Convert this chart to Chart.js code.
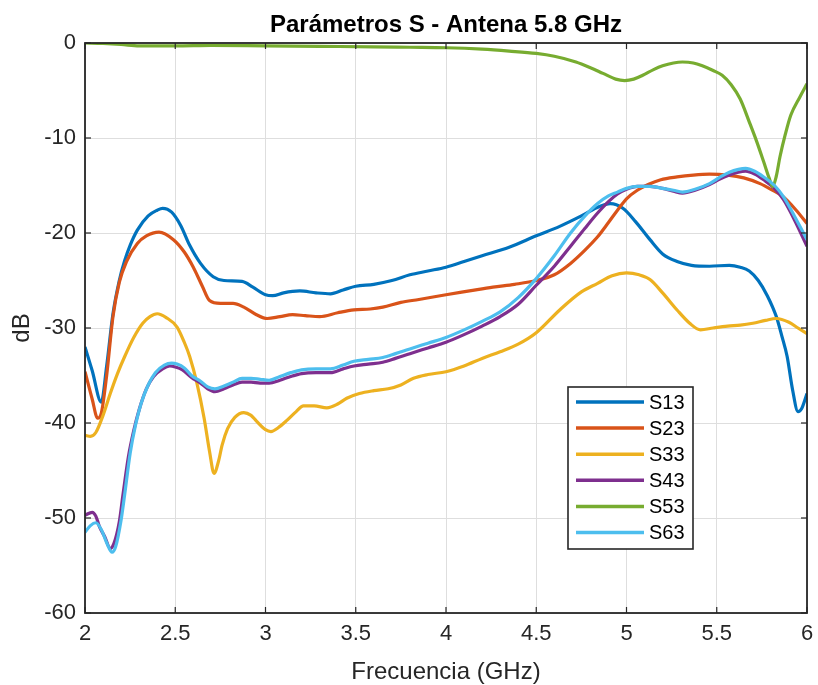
<!DOCTYPE html>
<html>
<head>
<meta charset="utf-8">
<script src="https://cdn.jsdelivr.net/npm/chart.js@4"></script>
<style>
  html, body { margin: 0; padding: 0; background: #fff; }
  #wrap { width: 818px; height: 685px; }
</style>
</head>
<body>
<div id="wrap"><canvas id="c" width="818" height="685"></canvas></div>
<script>
// S-parameter sweep of the 5.8 GHz antenna (port 3 excitation), values in dB
const seriesNames  = ['S13', 'S23', 'S33', 'S43', 'S53', 'S63'];
const seriesColors = ['#0072BD', '#D95319', '#EDB120', '#7E2F8E', '#77AC30', '#4DBEEE'];

const xTicks = [2, 2.5, 3, 3.5, 4, 4.5, 5, 5.5, 6];
const yTicks = [0, -10, -20, -30, -40, -50, -60];

const freqS13 = [2.00, 2.04, 2.09, 2.12, 2.155, 2.19, 2.22, 2.25, 2.29, 2.35, 2.40, 2.43, 2.48, 2.53, 2.58, 2.64, 2.71, 2.77, 2.87, 2.93, 3.00, 3.04, 3.10, 3.19, 3.28, 3.36, 3.43, 3.50, 3.60, 3.70, 3.80, 3.90, 4.00, 4.10, 4.20, 4.35, 4.50, 4.63, 4.75, 4.85, 4.91, 4.98, 5.05, 5.13, 5.20, 5.28, 5.36, 5.46, 5.57, 5.63, 5.68, 5.73, 5.78, 5.83, 5.86, 5.89, 5.92, 5.95, 5.97, 6.00];
const dbS13   = [-32.0, -34.5, -37.8, -34.0, -28.5, -25.0, -22.9, -21.3, -19.7, -18.2, -17.6, -17.4, -17.8, -19.2, -21.3, -23.2, -24.6, -25.0, -25.1, -25.7, -26.5, -26.6, -26.3, -26.1, -26.3, -26.4, -26.0, -25.6, -25.4, -25.0, -24.4, -24.0, -23.6, -23.0, -22.4, -21.5, -20.3, -19.3, -18.2, -17.2, -16.9, -17.4, -18.8, -20.7, -22.2, -23.0, -23.4, -23.5, -23.4, -23.6, -24.0, -25.0, -26.6, -28.8, -30.8, -33.0, -36.5, -38.8, -38.5, -36.9];

const freqS23 = [2.00, 2.04, 2.07, 2.09, 2.12, 2.155, 2.19, 2.23, 2.29, 2.34, 2.41, 2.49, 2.55, 2.60, 2.65, 2.69, 2.75, 2.82, 2.88, 2.95, 3.01, 3.08, 3.15, 3.22, 3.30, 3.40, 3.49, 3.58, 3.65, 3.75, 3.85, 4.00, 4.13, 4.26, 4.38, 4.50, 4.60, 4.69, 4.77, 4.84, 4.90, 4.95, 5.00, 5.06, 5.12, 5.19, 5.28, 5.37, 5.46, 5.56, 5.65, 5.74, 5.80, 5.87, 5.94, 6.00];
const dbS23   = [-34.6, -37.5, -39.5, -39.0, -35.0, -28.8, -25.2, -23.0, -21.1, -20.3, -19.9, -20.7, -22.0, -23.6, -25.6, -27.1, -27.4, -27.4, -27.8, -28.6, -29.0, -28.8, -28.6, -28.7, -28.8, -28.4, -28.1, -28.0, -27.8, -27.3, -27.0, -26.5, -26.1, -25.7, -25.4, -25.0, -24.4, -23.2, -21.8, -20.4, -18.9, -17.6, -16.4, -15.5, -14.9, -14.4, -14.1, -13.9, -13.8, -13.9, -14.2, -14.8, -15.4, -16.2, -17.6, -19.0];

const freqS33 = [2.00, 2.03, 2.06, 2.10, 2.14, 2.18, 2.22, 2.27, 2.32, 2.36, 2.40, 2.45, 2.51, 2.55, 2.58, 2.62, 2.66, 2.69, 2.715, 2.74, 2.76, 2.79, 2.83, 2.88, 2.92, 2.95, 3.00, 3.03, 3.07, 3.12, 3.17, 3.21, 3.27, 3.34, 3.40, 3.45, 3.52, 3.60, 3.68, 3.75, 3.82, 3.90, 4.00, 4.10, 4.20, 4.30, 4.40, 4.50, 4.63, 4.75, 4.84, 4.92, 5.00, 5.07, 5.13, 5.20, 5.28, 5.35, 5.41, 5.48, 5.56, 5.63, 5.70, 5.77, 5.83, 5.90, 5.95, 6.00];
const dbS33   = [-41.3, -41.4, -41.0, -39.2, -36.9, -34.8, -33.0, -31.0, -29.5, -28.8, -28.5, -28.9, -29.9, -31.5, -33.0, -35.8, -39.5, -43.0, -45.3, -44.0, -42.3, -40.6, -39.4, -38.9, -39.2, -39.8, -40.7, -40.9, -40.5, -39.7, -38.8, -38.2, -38.2, -38.4, -38.0, -37.4, -36.9, -36.6, -36.4, -36.0, -35.3, -34.9, -34.6, -34.0, -33.2, -32.5, -31.7, -30.5, -28.1, -26.2, -25.3, -24.5, -24.2, -24.4, -24.9, -26.3, -28.1, -29.5, -30.2, -30.0, -29.8, -29.7, -29.5, -29.2, -29.0, -29.4, -30.0, -30.6];

const freqS43 = [2.00, 2.04, 2.06, 2.08, 2.11, 2.14, 2.16, 2.19, 2.21, 2.24, 2.27, 2.30, 2.34, 2.38, 2.43, 2.47, 2.50, 2.54, 2.59, 2.64, 2.68, 2.72, 2.77, 2.82, 2.87, 2.92, 2.97, 3.02, 3.08, 3.14, 3.20, 3.28, 3.36, 3.43, 3.49, 3.57, 3.65, 3.72, 3.80, 3.90, 4.00, 4.10, 4.20, 4.30, 4.40, 4.50, 4.60, 4.69, 4.77, 4.84, 4.90, 4.95, 5.00, 5.06, 5.13, 5.20, 5.26, 5.31, 5.38, 5.46, 5.52, 5.57, 5.62, 5.66, 5.71, 5.76, 5.82, 5.87, 5.93, 6.00];
const dbS43   = [-49.7, -49.4, -49.8, -50.9, -52.0, -53.2, -52.7, -50.4, -47.6, -43.6, -40.8, -38.6, -36.4, -35.1, -34.3, -34.0, -34.1, -34.4, -35.2, -35.8, -36.4, -36.7, -36.4, -36.0, -35.7, -35.7, -35.8, -35.8, -35.5, -35.1, -34.8, -34.7, -34.7, -34.3, -34.0, -33.8, -33.6, -33.2, -32.7, -32.1, -31.5, -30.7, -29.8, -28.8, -27.5, -25.5, -23.5, -21.4, -19.5, -17.9, -16.7, -15.9, -15.4, -15.1, -15.1, -15.3, -15.6, -15.8, -15.5, -14.9, -14.3, -13.9, -13.6, -13.5, -13.8, -14.4, -15.3, -16.5, -18.6, -21.4];

const freqS53 = [2.00, 2.10, 2.20, 2.30, 2.40, 2.50, 2.70, 3.00, 3.30, 3.60, 3.80, 4.00, 4.20, 4.35, 4.50, 4.60, 4.72, 4.80, 4.87, 4.94, 4.99, 5.04, 5.09, 5.15, 5.20, 5.26, 5.31, 5.37, 5.42, 5.48, 5.53, 5.58, 5.63, 5.68, 5.72, 5.76, 5.79, 5.81, 5.83, 5.85, 5.88, 5.91, 5.96, 6.00];
const dbS53   = [0.0, -0.05, -0.15, -0.3, -0.3, -0.3, -0.25, -0.3, -0.35, -0.4, -0.45, -0.5, -0.65, -0.85, -1.1, -1.4, -2.0, -2.6, -3.2, -3.8, -3.95, -3.8, -3.4, -2.8, -2.4, -2.1, -2.0, -2.1, -2.4, -2.9, -3.4, -4.4, -5.9, -8.3, -10.3, -12.5, -14.2, -15.1, -14.0, -12.0, -9.6, -7.6, -5.7, -4.3];

const freqS63 = [2.00, 2.03, 2.06, 2.09, 2.12, 2.15, 2.17, 2.20, 2.22, 2.25, 2.28, 2.31, 2.35, 2.39, 2.44, 2.48, 2.51, 2.55, 2.59, 2.64, 2.68, 2.72, 2.77, 2.82, 2.87, 2.92, 2.97, 3.02, 3.08, 3.14, 3.20, 3.28, 3.36, 3.43, 3.49, 3.57, 3.65, 3.72, 3.80, 3.90, 4.00, 4.10, 4.20, 4.30, 4.40, 4.50, 4.60, 4.69, 4.77, 4.84, 4.90, 4.95, 5.00, 5.06, 5.13, 5.20, 5.26, 5.31, 5.38, 5.46, 5.52, 5.57, 5.62, 5.66, 5.71, 5.76, 5.82, 5.87, 5.93, 6.00];
const dbS63   = [-51.5, -50.8, -50.5, -51.2, -52.6, -53.6, -53.0, -50.2, -47.5, -43.2, -40.2, -38.0, -36.0, -34.7, -33.9, -33.7, -33.8, -34.2, -35.0, -35.6, -36.2, -36.4, -36.1, -35.7, -35.3, -35.3, -35.4, -35.5, -35.1, -34.7, -34.4, -34.3, -34.3, -33.9, -33.5, -33.3, -33.1, -32.7, -32.2, -31.6, -31.0, -30.2, -29.3, -28.3, -26.8, -24.8, -22.4, -20.0, -18.2, -16.9, -16.1, -15.7, -15.3, -15.1, -15.1, -15.3, -15.5, -15.7, -15.4, -14.8, -14.1, -13.6, -13.3, -13.2, -13.5, -14.1, -15.0, -16.2, -18.2, -20.7];

const seriesFreq = [freqS13, freqS23, freqS33, freqS43, freqS53, freqS63];
const seriesDb   = [dbS13, dbS23, dbS33, dbS43, dbS53, dbS63];

const FONT = '"Liberation Sans", Arial, Helvetica, sans-serif';
const AXIS_INK = '#262626';

const toPoints = (f, v) => f.map((x, i) => ({ x: x, y: v[i] }));

const datasets = seriesNames.map((name, i) => ({
  label: name,
  data: toPoints(seriesFreq[i], seriesDb[i]),
  borderColor: seriesColors[i],
  backgroundColor: seriesColors[i],
  borderWidth: 3.2,
  pointRadius: 0,
  fill: false,
  cubicInterpolationMode: 'monotone',
  order: seriesNames.length - i   // later traces sit on top
}));

// Axes frame, inward tick marks, legend box and text labels
const decorations = {
  id: 'decorations',
  afterDatasetsDraw(chart) {
    const { ctx, chartArea: a, scales: { x, y } } = chart;
    ctx.save();

    const seg = (x1, y1, x2, y2) => { ctx.beginPath(); ctx.moveTo(x1, y1); ctx.lineTo(x2, y2); ctx.stroke(); };

    ctx.strokeStyle = AXIS_INK;
    ctx.lineWidth = 1.2;
    xTicks.forEach(v => {
      const px = x.getPixelForValue(v);
      seg(px, a.bottom, px, a.bottom - 6);
      seg(px, a.top, px, a.top + 6);
    });
    yTicks.forEach(v => {
      const py = y.getPixelForValue(v);
      seg(a.left, py, a.left + 6, py);
      seg(a.right, py, a.right - 6, py);
    });

    ctx.lineWidth = 1.8;
    ctx.strokeRect(a.left, a.top, a.right - a.left, a.bottom - a.top);

    // legend
    const lx = 568, ly = 387, lw = 125, lh = 162, row = 26.1, firstRow = 402;
    ctx.fillStyle = '#fff';
    ctx.fillRect(lx, ly, lw, lh);
    ctx.lineWidth = 1.6;
    ctx.strokeStyle = AXIS_INK;
    ctx.strokeRect(lx, ly, lw, lh);
    ctx.font = '20px ' + FONT;
    ctx.textAlign = 'left';
    ctx.textBaseline = 'middle';
    seriesNames.forEach((name, i) => {
      const ry = firstRow + i * row;
      ctx.strokeStyle = seriesColors[i];
      ctx.lineWidth = 3.5;
      seg(576, ry, 644, ry);
      ctx.fillStyle = '#000';
      ctx.fillText(name, 649, ry + 1);
    });

    // title and axis labels
    const cx = (a.left + a.right) / 2;
    ctx.fillStyle = '#000';
    ctx.textAlign = 'center';
    ctx.textBaseline = 'alphabetic';
    ctx.font = 'bold 24px ' + FONT;
    ctx.fillText('Parámetros S - Antena 5.8 GHz', cx, 32);

    ctx.fillStyle = AXIS_INK;
    ctx.font = '24px ' + FONT;
    ctx.fillText('Frecuencia (GHz)', cx, 679);

    ctx.translate(29, (a.top + a.bottom) / 2);
    ctx.rotate(-Math.PI / 2);
    ctx.fillText('dB', 0, 0);

    ctx.restore();
  }
};

new Chart(document.getElementById('c'), {
  type: 'line',
  data: { datasets: datasets },
  options: {
    responsive: false,
    animation: false,
    devicePixelRatio: 1,
    layout: { padding: { top: 43, right: 11, bottom: 0, left: 0 } },
    plugins: {
      legend: { display: false },
      title: { display: false },
      tooltip: { enabled: false }
    },
    scales: {
      x: {
        type: 'linear',
        min: 2, max: 6,
        afterFit(s) { s.height = 72; s.paddingLeft = 0; s.paddingRight = 0; },
        afterBuildTicks(s) { s.ticks = xTicks.map(v => ({ value: v })); },
        ticks: {
          font: { family: FONT, size: 22 },
          color: AXIS_INK,
          padding: 8,
          maxRotation: 0,
          callback: v => String(v)
        },
        grid: { color: '#dedede', lineWidth: 1, drawTicks: false },
        border: { display: false }
      },
      y: {
        type: 'linear',
        min: -60, max: 0,
        afterFit(s) { s.width = 85; s.paddingTop = 0; s.paddingBottom = 0; },
        afterBuildTicks(s) { s.ticks = yTicks.map(v => ({ value: v })); },
        ticks: {
          font: { family: FONT, size: 22 },
          color: AXIS_INK,
          padding: 9,
          callback: v => String(v)
        },
        grid: { color: '#dedede', lineWidth: 1, drawTicks: false },
        border: { display: false }
      }
    }
  },
  plugins: [decorations]
});
</script>
</body>
</html>
